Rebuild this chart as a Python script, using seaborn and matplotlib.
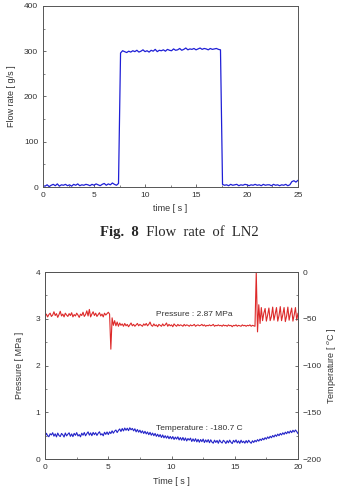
import numpy as np
import matplotlib
matplotlib.use("Agg")
import matplotlib.pyplot as plt
from matplotlib.ticker import MultipleLocator
import seaborn as sns

# flow rate [g/s], sampled every 0.2 s from 0 to 25 s
flow_dt = 0.2
flow = [3, 2, 5, 1, 4, 6, 3, 7, 2, 5,
        4, 6, 3, 5, 2, 6, 4, 7, 3, 5,
        4, 6, 5, 3, 6, 4, 7, 5, 3, 6,
        8, 4, 7, 5, 9, 6, 4, 8,
        296, 301, 299, 297, 300, 298, 301, 299, 302, 298,
        300, 303, 299, 301, 298, 302, 300, 304, 299, 302,
        301, 303, 300, 304, 302, 301, 305, 302, 303, 306,
        302, 304, 307, 303, 305, 304, 306, 303, 305, 307,
        304, 306, 305, 303, 306, 304, 305, 306, 304, 303,
        6, 4, 5, 3, 6, 4, 5, 6, 3, 5,
        4, 6, 5, 3, 5, 4, 6, 4, 5, 3,
        6, 4, 5, 5, 3, 6, 4, 5, 3, 5,
        4, 6, 3, 5, 12, 14, 11, 15]

# pressure [MPa] and temperature [C], sampled every 0.1 s from 0 to 20 s
pt_dt = 0.1
pressure = [3.06, 3.10, 3.04, 3.09, 3.12, 3.05, 3.08, 3.15, 3.07, 3.11,
            3.03, 3.09, 3.16, 3.06, 3.10, 3.04, 3.12, 3.08, 3.05, 3.11,
            3.07, 3.13, 3.04, 3.09, 3.06, 3.12, 3.08, 3.03, 3.10, 3.07,
            3.14, 3.05, 3.09, 3.17, 3.06, 3.20, 3.04, 3.10, 3.15, 3.07,
            3.12, 3.05, 3.09, 3.13, 3.06, 3.10, 3.04, 3.12, 3.08, 3.11,
            3.14, 3.10,
            2.35, 3.02, 2.86, 2.96, 2.85, 2.93, 2.84, 2.91,
            2.86, 2.89, 2.84, 2.90, 2.85, 2.88, 2.83, 2.87, 2.91, 2.85,
            2.88, 2.84, 2.87, 2.90, 2.85, 2.88, 2.86, 2.84, 2.89, 2.86,
            2.90, 2.85, 2.88, 2.93, 2.86, 2.84, 2.89, 2.85, 2.87, 2.83,
            2.88, 2.86, 2.84, 2.89, 2.85, 2.87, 2.91, 2.84, 2.88, 2.85,
            2.87, 2.83, 2.89, 2.86, 2.84, 2.88, 2.85, 2.87, 2.86, 2.84,
            2.88, 2.85, 2.87, 2.86, 2.84, 2.87, 2.85, 2.86, 2.88, 2.84,
            2.86, 2.87, 2.85, 2.86, 2.88, 2.85, 2.87, 2.84, 2.86, 2.85,
            2.87, 2.85, 2.86, 2.88, 2.84, 2.86, 2.85, 2.87, 2.85, 2.86,
            2.84, 2.87, 2.85, 2.86, 2.84, 2.87, 2.85, 2.86, 2.83, 2.86,
            2.85, 2.87, 2.84, 2.86, 2.85, 2.84, 2.87, 2.85, 2.86, 2.84,
            2.86, 2.85, 2.87, 2.84, 2.86, 2.85,
            2.84, 4.00, 2.72, 3.30, 2.90, 3.24, 2.96, 3.12, 3.22, 2.95,
            3.08, 3.23, 2.96, 3.05, 3.25, 2.97, 3.10, 3.24, 2.95, 3.07,
            3.26, 2.96, 3.09, 3.24, 2.94, 3.06, 3.25, 2.97, 3.11, 3.23,
            2.95, 3.08, 3.24, 2.97, 3.12]

temperature = [-175.8, -172.4, -174.9, -176.1, -172.9, -174.2, -171.8, -175.5, -173.0, -176.3,
               -172.2, -174.8, -175.9, -172.6, -174.0, -176.4, -172.1, -175.2, -173.4, -171.9,
               -175.7, -173.1, -176.0, -172.5, -174.6, -171.7, -175.3, -173.8, -176.2, -172.3,
               -174.5, -171.6, -175.1, -172.8, -170.9, -174.4, -172.0, -175.0, -171.5, -173.9,
               -171.8, -174.7, -172.4, -170.8, -174.2, -172.9, -175.1, -171.3, -173.6, -171.0,
               -173.8, -170.9, -172.7, -169.8, -172.3, -170.1, -168.9, -171.6, -169.4, -167.8,
               -170.5, -167.3, -169.9, -166.8, -169.2, -167.0, -169.6, -166.5, -168.7, -167.2,
               -169.8, -167.6, -170.9, -168.4, -171.2, -169.1, -172.0, -169.8, -172.6, -170.3,
               -173.1, -171.0, -173.9, -171.4, -174.5, -172.2, -175.0, -172.6, -175.7, -173.4,
               -176.1, -173.8, -176.9, -174.2, -177.3, -175.0, -177.6, -175.3, -178.2, -175.8,
               -178.4, -175.9, -179.0, -176.5, -178.6, -176.2, -179.5, -177.0, -179.8, -176.9,
               -180.1, -177.4, -180.6, -178.0, -179.7, -177.6, -181.2, -178.4, -181.0, -178.2,
               -181.6, -178.9, -182.0, -179.1, -181.4, -178.6, -182.3, -179.5, -181.8, -179.2,
               -182.5, -179.4, -181.9, -183.0, -179.8, -182.2, -180.1, -183.1, -179.6, -181.7,
               -182.8, -179.9, -181.2, -183.3, -180.3, -182.6, -179.7, -182.1, -183.4, -180.0,
               -181.9, -179.5, -182.7, -180.6, -183.2, -179.8, -182.4, -180.9, -183.0, -180.2,
               -182.6, -179.9, -181.8, -183.1, -180.4,
               -182.2, -180.0, -181.5, -179.2, -180.8, -178.6, -180.1, -177.8, -179.4, -177.1,
               -178.7, -176.3, -177.9, -175.6, -177.2, -174.8, -176.4, -174.1, -175.7, -173.3,
               -175.0, -172.6, -174.2, -171.9, -173.6, -171.2, -172.9, -170.5, -172.3, -169.8,
               -171.7, -169.2, -171.0, -168.9, -170.6, -172.8]

flow_t = np.arange(len(flow)) * flow_dt
pt_t = np.arange(len(pressure)) * pt_dt

sns.set_style("ticks")
plt.rcParams['font.family'] = ['Liberation Sans', 'DejaVu Sans']

gray = "#555555"
tick_kw = dict(direction="in", labelsize=6, colors=gray, labelcolor="#333333",
               width=0.6)

fig = plt.figure(figsize=(3.39, 4.91), dpi=100)

# --- top: flow rate ---
ax1 = fig.add_axes([0.127, 0.619, 0.752, 0.369])
sns.lineplot(x=flow_t, y=flow, ax=ax1, color="#1f1fd6", linewidth=0.9)
ax1.set_xlim(0, 25)
ax1.set_ylim(0, 400)
ax1.xaxis.set_major_locator(MultipleLocator(5))
ax1.xaxis.set_minor_locator(MultipleLocator(2.5))
ax1.yaxis.set_major_locator(MultipleLocator(100))
ax1.yaxis.set_minor_locator(MultipleLocator(50))
ax1.tick_params(which="major", length=2.5, **tick_kw)
ax1.tick_params(which="minor", direction="in", length=1.5, width=0.5, colors=gray)
ax1.set_xlabel("time [ s ]", fontsize=6.5, color="#333333", labelpad=4)
ax1.set_ylabel("Flow rate [ g/s ]", fontsize=6.5, color="#333333", labelpad=6)
for s in ax1.spines.values():
    s.set_color(gray)
    s.set_linewidth(0.7)

fig.text(0.41, 0.527, "Fig.  8", fontsize=10.5, family="Liberation Serif",
         fontweight="bold", ha="right", va="center")
fig.text(0.41, 0.527, "  Flow  rate  of  LN2", fontsize=10.5, family="Liberation Serif",
         ha="left", va="center")

# --- bottom: pressure and temperature ---
ax2 = fig.add_axes([0.133, 0.065, 0.746, 0.381])
sns.lineplot(x=pt_t, y=pressure, ax=ax2, color="#dd2a2a", linewidth=0.8)
ax2.set_xlim(0, 20)
ax2.set_ylim(0, 4)
ax2.xaxis.set_major_locator(MultipleLocator(5))
ax2.xaxis.set_minor_locator(MultipleLocator(2.5))
ax2.yaxis.set_major_locator(MultipleLocator(1))
ax2.yaxis.set_minor_locator(MultipleLocator(0.5))
ax2.tick_params(which="major", length=2.5, **tick_kw)
ax2.tick_params(which="minor", direction="in", length=1.5, width=0.5, colors=gray)
ax2.set_xlabel("Time [ s ]", fontsize=6.5, color="#333333", labelpad=4)
ax2.set_ylabel("Pressure [ MPa ]", fontsize=6.5, color="#333333", labelpad=8)

ax3 = ax2.twinx()
sns.lineplot(x=pt_t, y=temperature, ax=ax3, color="#2323c8", linewidth=0.8)
ax3.set_ylim(-200, 0)
ax3.yaxis.set_major_locator(MultipleLocator(50))
ax3.yaxis.set_minor_locator(MultipleLocator(25))
ax3.tick_params(which="major", length=2.5, **tick_kw)
ax3.tick_params(which="minor", direction="in", length=1.5, width=0.5, colors=gray)
ax3.set_ylabel("Temperature [ $^{o}$C ]", fontsize=6.5, color="#333333", labelpad=2)
for ax in (ax2, ax3):
    for s in ax.spines.values():
        s.set_color(gray)
        s.set_linewidth(0.7)

ax2.text(8.8, 3.1, "Pressure : 2.87 MPa", fontsize=6, color="#333333", va="center")
ax2.text(8.8, 0.66, "Temperature : -180.7 C", fontsize=6, color="#333333", va="center")

fig.savefig("out.png", dpi=100)
